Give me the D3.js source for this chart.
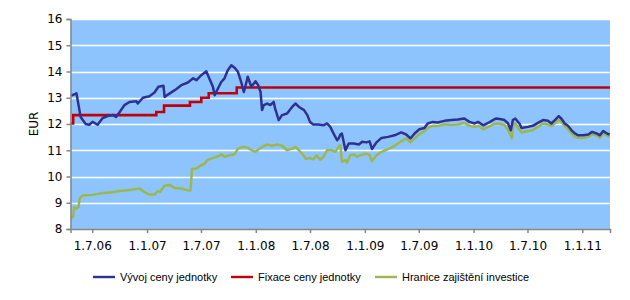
<html>
<head>
<meta charset="utf-8">
<script src="https://cdn.jsdelivr.net/npm/d3@7"></script>
<style>
    body { margin: 0; background: #fff; }
    text { font-family: "DejaVu Sans", sans-serif; fill: #000; }
</style>
</head>
<body>
<div id="chart"></div>
<script>
    // --- data ---
    var yTicks = [8, 9, 10, 11, 12, 13, 14, 15, 16];
    var xTicks = ["2006-07-01", "2007-01-01", "2007-07-01", "2008-01-01", "2008-07-01",
                  "2009-01-01", "2009-07-01", "2010-01-01", "2010-07-01", "2011-01-01"];
    var seriesNames = ["Vývoj ceny jednotky", "Fixace ceny jednotky", "Hranice zajištění investice"];
    var seriesColors = ["#2E3192", "#C0000B", "#9BB84F"];

    // Vývoj ceny jednotky
    var unitDates = ["2006-04-20","2006-05-09","2006-05-16","2006-05-23","2006-06-09","2006-06-21","2006-07-02","2006-07-19",
        "2006-08-05","2006-08-22","2006-09-08","2006-09-19","2006-09-30","2006-10-17","2006-11-03","2006-11-26","2006-12-01",
        "2006-12-18","2007-01-09","2007-01-26","2007-02-08","2007-02-25","2007-03-01","2007-03-12","2007-04-04","2007-04-26",
        "2007-05-18","2007-06-05","2007-06-16","2007-07-02","2007-07-19","2007-07-24","2007-08-10","2007-08-16","2007-08-27",
        "2007-09-07","2007-09-18","2007-09-29","2007-10-11","2007-10-22","2007-11-02","2007-11-13","2007-11-22","2007-12-05",
        "2007-12-17","2007-12-31","2008-01-09","2008-01-17","2008-01-22","2008-01-28","2008-02-08","2008-02-19","2008-03-01",
        "2008-03-06","2008-03-18","2008-03-29","2008-04-15","2008-05-02","2008-05-13","2008-05-25","2008-06-11","2008-06-22",
        "2008-07-01","2008-07-12","2008-07-29","2008-08-15","2008-08-27","2008-09-07","2008-09-18","2008-09-30","2008-10-05",
        "2008-10-11","2008-10-16","2008-10-28","2008-11-08","2008-11-25","2008-12-12","2008-12-23","2009-01-06","2009-01-17",
        "2009-01-25","2009-02-09","2009-02-26","2009-03-20","2009-04-11","2009-05-03","2009-05-20","2009-06-03","2009-06-17",
        "2009-07-03","2009-07-20","2009-07-31","2009-08-17","2009-09-03","2009-09-25","2009-10-18","2009-11-09","2009-12-01",
        "2009-12-18","2010-01-05","2010-01-16","2010-02-02","2010-02-19","2010-03-07","2010-03-18","2010-04-04","2010-04-15",
        "2010-04-27","2010-05-06","2010-05-13","2010-05-21","2010-06-05","2010-06-11","2010-07-03","2010-07-19","2010-08-05",
        "2010-08-22","2010-09-08","2010-09-19","2010-10-01","2010-10-14","2010-10-23","2010-11-03","2010-11-14","2010-11-26",
        "2010-12-07","2010-12-18","2011-01-04","2011-01-21","2011-02-03","2011-02-18","2011-03-01","2011-03-12","2011-03-28",
        "2011-04-03"];
    var unitValues = [13.07,13.17,12.72,12.27,12.00,11.97,12.08,11.97,
        12.23,12.30,12.34,12.27,12.44,12.72,12.84,12.87,12.78,
        13.00,13.06,13.20,13.42,13.46,13.03,13.12,13.29,13.48,
        13.58,13.74,13.67,13.86,14.01,13.87,13.42,13.10,13.35,
        13.60,13.74,14.05,14.24,14.14,13.99,13.60,13.22,13.80,
        13.42,13.63,13.48,13.22,12.53,12.72,12.78,12.72,12.84,
        12.59,12.15,12.34,12.40,12.65,12.78,12.65,12.53,12.34,
        12.08,11.98,11.98,11.95,12.02,11.89,11.64,11.38,11.45,
        11.60,11.64,11.00,11.26,11.26,11.22,11.32,11.30,11.34,
        11.05,11.30,11.47,11.51,11.57,11.68,11.60,11.45,11.64,
        11.80,11.85,12.02,12.08,12.06,12.12,12.15,12.17,12.21,
        12.08,12.02,12.08,11.95,12.04,12.15,12.21,12.18,12.15,
        12.02,11.76,12.15,12.21,12.00,11.85,11.89,11.93,12.04,
        12.15,12.12,12.02,12.15,12.30,12.20,12.02,11.93,11.76,
        11.64,11.57,11.57,11.60,11.70,11.64,11.57,11.73,11.62,
        11.60];

    // Fixace ceny jednotky (step changes)
    var fixDates = ["2006-04-19","2006-04-28","2007-02-01","2007-02-27","2007-05-25","2007-07-02","2007-07-27","2007-10-29","2011-04-04"];
    var fixValues = [12.02, 12.34, 12.46, 12.70, 12.84, 13.00, 13.17, 13.39, 13.39];

    // Hranice zajištění investice
    var floorDates = ["2006-04-20","2006-04-28","2006-05-01","2006-05-09","2006-05-16","2006-05-20","2006-05-29","2006-07-02",
        "2006-08-05","2006-09-08","2006-09-30","2006-10-28","2006-11-20","2006-12-07","2006-12-23","2007-01-09","2007-01-26",
        "2007-02-06","2007-02-14","2007-03-01","2007-03-18","2007-04-04","2007-04-26","2007-05-18","2007-05-27","2007-06-01",
        "2007-06-15","2007-07-02","2007-07-13","2007-07-24","2007-08-10","2007-08-27","2007-09-07","2007-09-18","2007-10-05",
        "2007-10-22","2007-11-02","2007-11-19","2007-12-05","2007-12-11","2007-12-31","2008-01-17","2008-02-08","2008-02-25",
        "2008-03-13","2008-03-29","2008-04-15","2008-05-02","2008-05-13","2008-05-25","2008-06-05","2008-06-17","2008-07-01",
        "2008-07-12","2008-07-23","2008-08-04","2008-08-15","2008-08-27","2008-09-13","2008-09-24","2008-10-05","2008-10-11",
        "2008-10-16","2008-10-28","2008-11-02","2008-11-13","2008-11-25","2008-12-06","2008-12-17","2008-12-28","2009-01-06",
        "2009-01-17","2009-01-25","2009-02-09","2009-02-26","2009-03-20","2009-04-11","2009-05-03","2009-05-20","2009-06-03",
        "2009-06-17","2009-07-03","2009-07-20","2009-07-31","2009-08-17","2009-09-03","2009-09-25","2009-10-18","2009-11-09",
        "2009-12-01","2009-12-18","2010-01-05","2010-01-16","2010-02-02","2010-02-19","2010-03-07","2010-03-18","2010-04-04",
        "2010-04-15","2010-04-27","2010-05-06","2010-05-10","2010-05-14","2010-05-21","2010-06-05","2010-06-11","2010-07-03",
        "2010-07-19","2010-08-05","2010-08-22","2010-09-08","2010-09-19","2010-10-01","2010-10-14","2010-10-23","2010-11-03",
        "2010-11-14","2010-11-26","2010-12-07","2010-12-18","2011-01-04","2011-01-21","2011-02-03","2011-02-18","2011-03-01",
        "2011-03-12","2011-03-28","2011-04-03"];
    var floorValues = [8.45,8.45,8.84,8.78,8.84,9.16,9.28,9.30,
        9.37,9.40,9.45,9.48,9.51,9.54,9.41,9.31,9.31,
        9.44,9.42,9.66,9.68,9.56,9.54,9.47,9.47,10.30,
        10.30,10.43,10.49,10.64,10.70,10.77,10.84,10.75,10.81,
        10.85,11.06,11.13,11.10,11.04,10.94,11.09,11.22,11.17,
        11.22,11.17,11.00,11.06,11.13,11.00,10.87,10.68,10.70,
        10.65,10.81,10.64,10.74,11.00,11.00,10.94,11.13,11.19,
        10.56,10.62,10.53,10.81,10.84,10.75,10.81,10.84,10.87,
        10.81,10.58,10.81,10.94,11.04,11.17,11.34,11.45,11.30,
        11.45,11.61,11.73,11.85,11.93,11.92,11.99,11.96,11.98,
        12.04,11.93,11.89,11.93,11.80,11.89,11.98,12.02,11.99,
        11.96,11.76,11.57,11.45,11.96,12.02,11.76,11.68,11.73,
        11.76,11.89,12.02,11.98,11.92,12.02,12.15,12.08,11.92,
        11.80,11.64,11.51,11.47,11.47,11.51,11.60,11.57,11.47,
        11.64,11.54,11.51];

    var parse = d3.timeParse("%Y-%m-%d");

    var margin = {top: 19, right: 20, bottom: 71, left: 70.5},
        W = 630, H = 300,
        width = W - margin.left - margin.right,
        height = H - margin.top - margin.bottom;

    var svg = d3.select("#chart").append("svg")
        .attr("width", W)
        .attr("height", H);

    var g = svg.append("g")
        .attr("transform", "translate(" + margin.left + "," + margin.top + ")");

    var x = d3.scaleTime()
        .domain([parse("2006-04-19"), parse("2011-04-04")])
        .range([0, width]);

    var y = d3.scaleLinear()
        .domain([8, 16])
        .range([height, 0]);

    // plot background
    g.append("rect")
        .attr("width", width)
        .attr("height", height)
        .attr("fill", "#8EC4FE");

    // gridlines
    g.append("g")
        .selectAll("line")
        .data(yTicks.slice(1))
        .enter().append("line")
        .attr("x1", 0)
        .attr("x2", width)
        .attr("y1", function (d) { return Math.round(y(d)) + 0.5; })
        .attr("y2", function (d) { return Math.round(y(d)) + 0.5; })
        .attr("stroke", "#fff")
        .attr("stroke-width", 1.5);

    function toPoints(dates, vals) {
        return dates.map(function (d, i) { return {date: parse(d), value: vals[i]}; });
    }

    var line = d3.line()
        .x(function (d) { return x(d.date); })
        .y(function (d) { return y(d.value); });

    var stepLine = d3.line()
        .curve(d3.curveStepAfter)
        .x(function (d) { return x(d.date); })
        .y(function (d) { return y(d.value); });

    g.append("path")
        .datum(toPoints(floorDates, floorValues))
        .attr("fill", "none")
        .attr("stroke", seriesColors[2])
        .attr("stroke-width", 2.5)
        .attr("stroke-linejoin", "round")
        .attr("d", line);

    g.append("path")
        .datum(toPoints(fixDates, fixValues))
        .attr("fill", "none")
        .attr("stroke", seriesColors[1])
        .attr("stroke-width", 2.6)
        .attr("d", stepLine);

    g.append("path")
        .datum(toPoints(unitDates, unitValues))
        .attr("fill", "none")
        .attr("stroke", seriesColors[0])
        .attr("stroke-width", 2.5)
        .attr("stroke-linejoin", "round")
        .attr("d", line);

    // axes
    var fmt = function (d) { return d.getDate() + "." + (d.getMonth() + 1) + "." + d3.timeFormat("%y")(d); };

    var yAxis = g.append("g")
        .call(d3.axisLeft(y).tickValues(yTicks).tickSize(4).tickPadding(4));
    var xAxis = g.append("g")
        .attr("transform", "translate(0," + height + ")")
        .call(d3.axisBottom(x).tickValues(xTicks.map(parse)).tickFormat(fmt).tickSize(4).tickPadding(8));

    [yAxis, xAxis].forEach(function (a) {
        a.select(".domain").attr("stroke", "#868686").attr("stroke-width", 1.5);
        a.selectAll(".tick line").attr("stroke", "#868686").attr("stroke-width", 1.5);
        a.selectAll("text").style("font-size", "12px").style("font-family", "'DejaVu Sans', sans-serif");
    });

    svg.append("text")
        .attr("transform", "translate(38," + (margin.top + height / 2) + ") rotate(-90)")
        .attr("text-anchor", "middle")
        .style("font-size", "12px")
        .text("EUR");

    // legend
    var legendX = [93, 231, 375];
    var legend = svg.append("g").selectAll("g")
        .data(seriesNames)
        .enter().append("g")
        .attr("transform", function (d, i) { return "translate(" + legendX[i] + ",277)"; });

    legend.append("line")
        .attr("x1", 0).attr("x2", 22)
        .attr("stroke", function (d, i) { return seriesColors[i]; })
        .attr("stroke-width", 2.4);

    legend.append("text")
        .attr("x", 27)
        .attr("dy", "0.35em")
        .style("font-size", "11px")
        .style("font-family", "'Liberation Sans', sans-serif")
        .text(function (d) { return d; });
</script>
</body>
</html>
